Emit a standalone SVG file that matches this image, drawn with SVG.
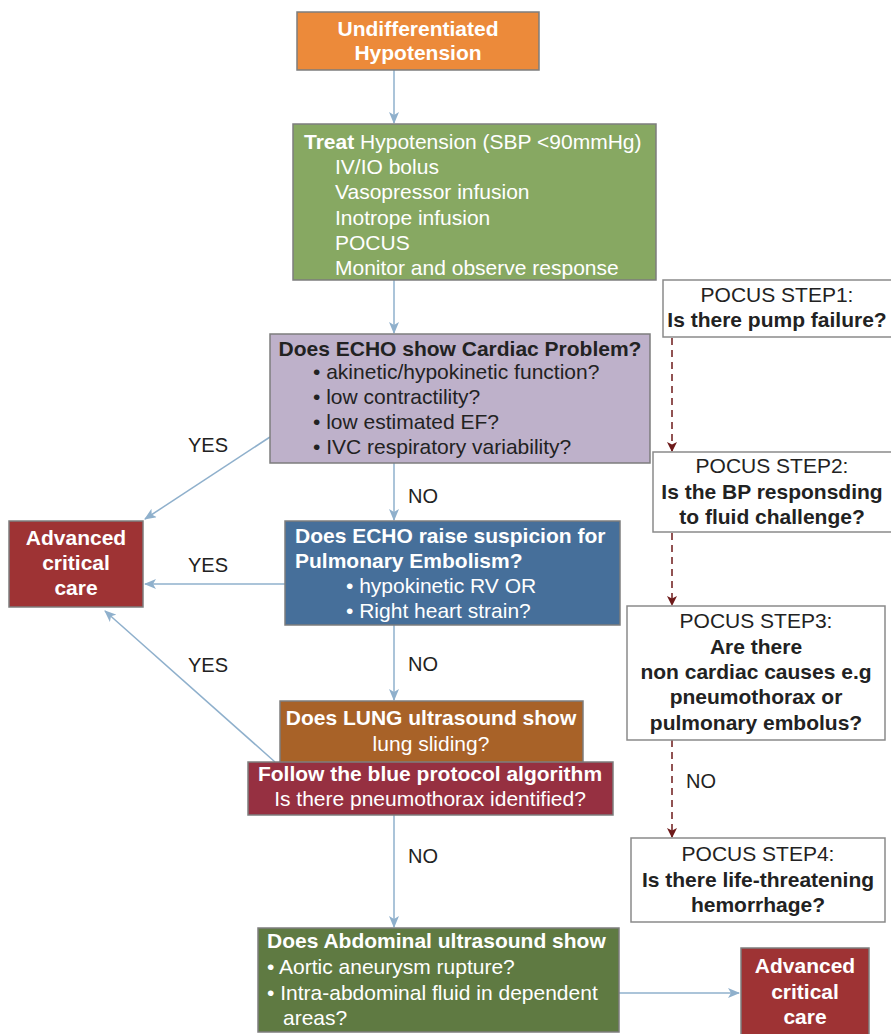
<svg xmlns="http://www.w3.org/2000/svg" width="891" height="1034" viewBox="0 0 891 1034">
  <style>
    text { font-family: "Liberation Sans", Arial, Helvetica, sans-serif; font-size: 21px; }
    .w { fill: #ffffff; }
    .d { fill: #222222; }
    .b { font-weight: bold; }
    .c { text-anchor: middle; }
    .box { stroke: #7d7d7d; stroke-width: 1.5; }
    .pocus { fill: #ffffff; stroke: #8a8a8a; stroke-width: 1.5; }
    .flow { stroke: #8fb0cc; stroke-width: 1.5; fill: none; }
    .dash { stroke: #6e1a1a; stroke-width: 1.5; fill: none; stroke-dasharray: 7 5; }
    .lbl { fill: #222222; font-size: 20px; }
  </style>
  <defs>
    <marker id="arrBlue" viewBox="0 0 12 10" refX="11" refY="5" markerWidth="12" markerHeight="10" markerUnits="userSpaceOnUse" orient="auto">
      <path d="M0,0 L12,5 L0,10 L3,5 z" fill="#8fb0cc"/>
    </marker>
    <marker id="arrRed" viewBox="0 0 10 10" refX="9" refY="5" markerWidth="10" markerHeight="10" markerUnits="userSpaceOnUse" orient="auto">
      <path d="M0,0 L10,5 L0,10 L2.5,5 z" fill="#6e1a1a"/>
    </marker>
  </defs>

  <!-- connectors -->
  <g id="connectors">
    <line class="flow" x1="394" y1="70" x2="394" y2="123" marker-end="url(#arrBlue)"/>
    <line class="flow" x1="394" y1="280" x2="394" y2="333" marker-end="url(#arrBlue)"/>
    <line class="flow" x1="394" y1="463" x2="394" y2="520" marker-end="url(#arrBlue)"/>
    <line class="flow" x1="394" y1="625" x2="394" y2="700" marker-end="url(#arrBlue)"/>
    <line class="flow" x1="394" y1="815" x2="394" y2="927" marker-end="url(#arrBlue)"/>
    <line class="flow" x1="270" y1="437" x2="145" y2="519" marker-end="url(#arrBlue)"/>
    <line class="flow" x1="285" y1="584" x2="145" y2="584" marker-end="url(#arrBlue)"/>
    <line class="flow" x1="275" y1="762" x2="105" y2="611" marker-end="url(#arrBlue)"/>
    <line class="flow" x1="619" y1="993" x2="739" y2="993" marker-end="url(#arrBlue)"/>
    <line class="dash" x1="672" y1="338" x2="672" y2="451" marker-end="url(#arrRed)"/>
    <line class="dash" x1="672" y1="533" x2="672" y2="605" marker-end="url(#arrRed)"/>
    <line class="dash" x1="672" y1="740" x2="672" y2="837" marker-end="url(#arrRed)"/>
    <text class="lbl" x="188" y="452">YES</text>
    <text class="lbl" x="188" y="572">YES</text>
    <text class="lbl" x="188" y="672">YES</text>
    <text class="lbl" x="408" y="503">NO</text>
    <text class="lbl" x="408" y="671">NO</text>
    <text class="lbl" x="408" y="863">NO</text>
    <text class="lbl" x="686" y="788">NO</text>
  </g>

  <g id="start">
    <rect class="box" x="297" y="12" width="242" height="58" fill="#ec8a3a"/>
    <text class="w b c" x="418" y="36">Undifferentiated</text>
    <text class="w b c" x="418" y="60">Hypotension</text>
  </g>

  <g id="treat">
    <rect class="box" x="293" y="124" width="363" height="156" fill="#87a862"/>
    <text class="w" x="304" y="149"><tspan class="b">Treat</tspan> Hypotension (SBP &lt;90mmHg)</text>
    <text class="w" x="335" y="174">IV/IO bolus</text>
    <text class="w" x="335" y="199">Vasopressor infusion</text>
    <text class="w" x="335" y="225">Inotrope infusion</text>
    <text class="w" x="335" y="250">POCUS</text>
    <text class="w" x="335" y="275">Monitor and observe response</text>
  </g>

  <g id="echo-cardiac">
    <rect class="box" x="270" y="334" width="380" height="129" fill="#beb1ca"/>
    <text class="d b c" x="460" y="356">Does ECHO show Cardiac Problem?</text>
    <text class="d" x="313" y="379">• akinetic/hypokinetic function?</text>
    <text class="d" x="313" y="404">• low contractility?</text>
    <text class="d" x="313" y="429">• low estimated EF?</text>
    <text class="d" x="313" y="454">• IVC respiratory variability?</text>
  </g>

  <g id="echo-pe">
    <rect class="box" x="285" y="521" width="335" height="104" fill="#466f9a"/>
    <text class="w b" x="295" y="543">Does ECHO raise suspicion for</text>
    <text class="w b" x="295" y="568">Pulmonary Embolism?</text>
    <text class="w" x="346" y="593">• hypokinetic RV OR</text>
    <text class="w" x="346" y="618">• Right heart strain?</text>
  </g>

  <g id="lung-us">
    <rect class="box" x="280" y="701" width="303" height="62" fill="#a86228"/>
    <text class="w b c" x="431" y="725">Does LUNG ultrasound show</text>
    <text class="w c" x="431" y="751">lung sliding?</text>
  </g>

  <g id="blue-protocol">
    <rect class="box" x="248" y="762" width="365" height="53" fill="#963041"/>
    <text class="w b c" x="430" y="781">Follow the blue protocol algorithm</text>
    <text class="w c" x="430" y="806">Is there pneumothorax identified?</text>
  </g>

  <g id="abdominal-us">
    <rect class="box" x="258" y="928" width="361" height="104" fill="#5f7a42"/>
    <text class="w b" x="267" y="948">Does Abdominal ultrasound show</text>
    <text class="w" x="267" y="974">• Aortic aneurysm rupture?</text>
    <text class="w" x="267" y="1000">• Intra-abdominal fluid in dependent</text>
    <text class="w" x="283" y="1025">areas?</text>
  </g>

  <g id="acc-left">
    <rect class="box" x="9" y="521" width="134" height="86" fill="#9e3334"/>
    <text class="w b c" x="76" y="545">Advanced</text>
    <text class="w b c" x="76" y="570">critical</text>
    <text class="w b c" x="76" y="595">care</text>
  </g>

  <g id="acc-right">
    <rect class="box" x="741" y="948" width="128" height="92" fill="#9e3334"/>
    <text class="w b c" x="805" y="973">Advanced</text>
    <text class="w b c" x="805" y="999">critical</text>
    <text class="w b c" x="805" y="1024">care</text>
  </g>

  <g id="pocus-step1">
    <rect class="pocus" x="663" y="280" width="230" height="57"/>
    <text class="d c" x="777" y="302">POCUS STEP1:</text>
    <text class="d b c" x="777" y="327">Is there pump failure?</text>
  </g>

  <g id="pocus-step2">
    <rect class="pocus" x="653" y="452" width="240" height="80"/>
    <text class="d c" x="772" y="473">POCUS STEP2:</text>
    <text class="d b c" x="772" y="499">Is the BP responsding</text>
    <text class="d b c" x="772" y="524">to fluid challenge?</text>
  </g>

  <g id="pocus-step3">
    <rect class="pocus" x="627" y="606" width="258" height="134"/>
    <text class="d c" x="756" y="628">POCUS STEP3:</text>
    <text class="d b c" x="756" y="654">Are there</text>
    <text class="d b c" x="756" y="679">non cardiac causes e.g</text>
    <text class="d b c" x="756" y="704">pneumothorax or</text>
    <text class="d b c" x="756" y="730">pulmonary embolus?</text>
  </g>

  <g id="pocus-step4">
    <rect class="pocus" x="631" y="838" width="254" height="84"/>
    <text class="d c" x="758" y="861">POCUS STEP4:</text>
    <text class="d b c" x="758" y="887">Is there life-threatening</text>
    <text class="d b c" x="758" y="912">hemorrhage?</text>
  </g>
</svg>
